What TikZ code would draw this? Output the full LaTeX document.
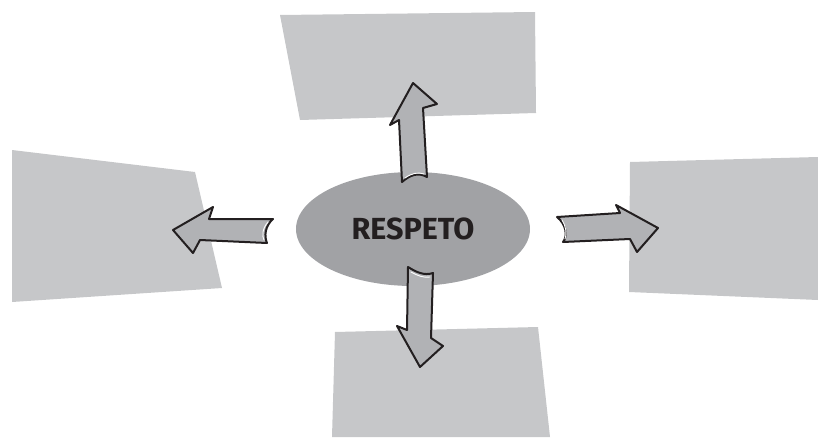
\documentclass[tikz,border=0pt]{standalone}
\usepackage{fontspec}
\usetikzlibrary{shapes.geometric}
\setmainfont{Fira Sans}
\definecolor{boxgray}{HTML}{C6C7C9}
\definecolor{ellgray}{HTML}{A1A2A5}
\definecolor{arrgray}{HTML}{B1B2B5}
\definecolor{ink}{HTML}{231F20}
\tikzset{
  panel/.style={fill=boxgray, draw=none},
  bigarrow/.style={fill=arrgray, draw=ink, line width=2pt, line join=round},
  shine/.style={draw=white, line width=0.9pt, line cap=round}
}
\begin{document}
\begin{tikzpicture}[x=1pt,y=-1pt]
\useasboundingbox (0,0) rectangle (818,439);
% panels
\fill[panel] (280,15) -- (535,12) -- (536,113) -- (300,120) -- cycle;
\fill[panel] (12,150) -- (195,172) -- (222,288) -- (12,302) -- cycle;
\fill[panel] (630,162) -- (818,157) -- (818,300) -- (629,292) -- cycle;
\fill[panel] (335,332) -- (538,327) -- (550,437) -- (332,437) -- cycle;
% centre ellipse
\node[ellipse, fill=ellgray, minimum width=234pt, minimum height=114pt, inner sep=0pt,
      font=\bfseries\fontsize{30.5}{30}\selectfont, text=ink] (core) at (413,229) {RESPETO};
% up arrow
\draw[bigarrow] (402,182) -- (399,120) -- (390,125) -- (413,83) -- (437,104) -- (423,108)
  -- (427,177) .. controls (418,172) and (410,175) .. cycle;
\draw[shine] (405,178) .. controls (412,173) and (418,172) .. (424,174);
% down arrow
\draw[bigarrow] (408,267) .. controls (416,272) and (424,276) .. (433,273) -- (431,338)
  -- (443,346) -- (420,367) -- (397,326) -- (407,330) -- cycle;
\draw[shine] (411,272) .. controls (418,276) and (424,278) .. (430,277);
% left arrow
\draw[bigarrow] (173,230) -- (213,207) -- (209,219) -- (273,219)
  .. controls (265,226) and (264,236) .. (267,243) -- (200,240) -- (193,253) -- cycle;
\draw[shine] (268,222) .. controls (262,229) and (262,236) .. (264,240);
% right arrow
\draw[bigarrow] (557,217) -- (620,213) -- (616,205) -- (658,228) -- (637,252) -- (630,239)
  -- (563,242) .. controls (568,236) and (566,224) .. cycle;
\draw[shine] (562,220) .. controls (566,226) and (567,234) .. (565,239);
\end{tikzpicture}
\end{document}
